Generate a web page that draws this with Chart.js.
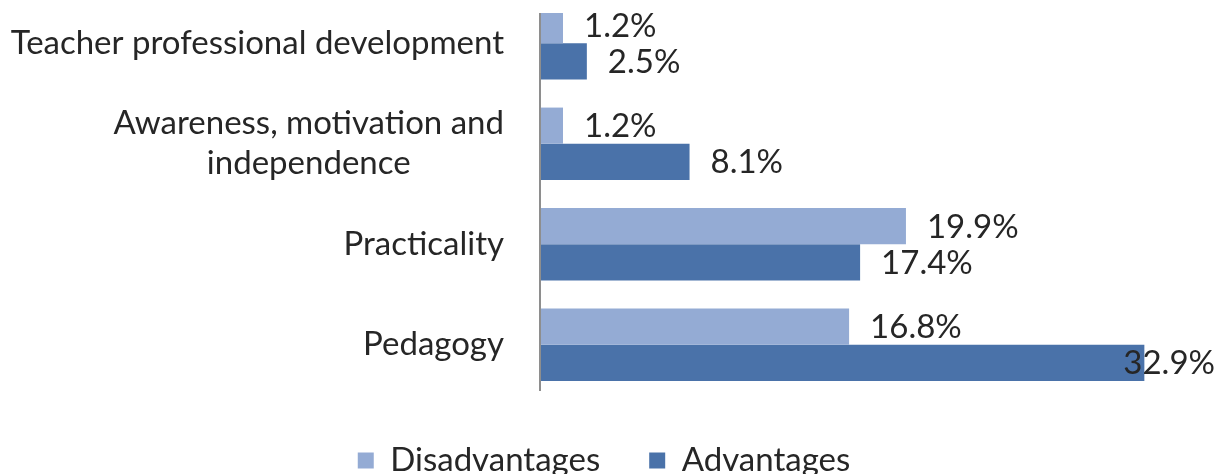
<!DOCTYPE html>
<html>
<head>
<meta charset="utf-8">
<script src="https://cdn.jsdelivr.net/npm/chart.js@4/dist/chart.umd.min.js"></script>
<style>
  html, body { margin: 0; padding: 0; background: #fff; overflow: hidden; }
  #wrap { position: absolute; left: 0; top: -20px; width: 1230px; height: 513px; }
</style>
</head>
<body>
<div id="wrap"><canvas id="chart" width="1230" height="513"></canvas></div>
<script>
const categories = [
  "Teacher professional development",
  ["Awareness, motivation and", "independence"],
  "Practicality",
  "Pedagogy"
];
const disadvantages = [1.2, 1.2, 19.9, 16.8];
const advantages = [2.5, 8.1, 17.4, 32.9];
const seriesNames = ["Disadvantages", "Advantages"];

const FONT = "Lato, 'Open Sans', sans-serif";
const FONT_SIZE = 33;
const TEXT = "#262626";
const LIGHT = "#94abd4";
const DARK = "#4a72a9";

// category names left of the axis; multi-line names are centred as a block
const categoryLabels = {
  id: "categoryLabels",
  afterDraw(chart) {
    const { ctx, chartArea } = chart;
    const y = chart.scales.y;
    const right = chartArea.left - 37;
    ctx.save();
    ctx.font = FONT_SIZE + "px " + FONT;
    ctx.fillStyle = TEXT;
    ctx.textAlign = "center";
    ctx.textBaseline = "middle";
    categories.forEach((label, i) => {
      const lines = Array.isArray(label) ? label : [label];
      const w = Math.max(...lines.map((l) => ctx.measureText(l).width));
      const cy = y.getPixelForValue(i);
      const lh = 40;
      lines.forEach((line, j) => {
        const ly = cy + (j - (lines.length - 1) / 2) * lh;
        ctx.fillText(line, right - w / 2, ly);
      });
    });
    ctx.restore();
  }
};

// value labels at the end of each bar, pulled back inside the canvas when too long
const valueLabels = {
  id: "valueLabels",
  afterDatasetsDraw(chart) {
    const { ctx } = chart;
    ctx.save();
    ctx.font = FONT_SIZE + "px " + FONT;
    ctx.fillStyle = TEXT;
    ctx.textAlign = "left";
    ctx.textBaseline = "middle";
    chart.data.datasets.forEach((ds, di) => {
      chart.getDatasetMeta(di).data.forEach((bar, i) => {
        const text = ds.data[i].toFixed(1) + "%";
        const w = ctx.measureText(text).width;
        const x = Math.min(bar.x + 21, chart.width - 15 - w);
        ctx.fillText(text, x, bar.y + 1);
      });
    });
    ctx.restore();
  }
};

// vertical axis line
const axisLine = {
  id: "axisLine",
  beforeDatasetsDraw(chart) {
    const { ctx, chartArea } = chart;
    ctx.save();
    ctx.strokeStyle = "#8e8e8e";
    ctx.lineWidth = 2;
    ctx.beginPath();
    ctx.moveTo(chartArea.left - 1, chartArea.top + 20);
    ctx.lineTo(chartArea.left - 1, chartArea.bottom - 4);
    ctx.stroke();
    ctx.restore();
  }
};

new Chart(document.getElementById("chart"), {
  type: "bar",
  data: {
    labels: categories,
    datasets: [
      { label: seriesNames[0], data: disadvantages, backgroundColor: LIGHT },
      { label: seriesNames[1], data: advantages, backgroundColor: DARK }
    ]
  },
  options: {
    indexAxis: "y",
    responsive: false,
    animation: false,
    devicePixelRatio: 1,
    datasets: {
      bar: {
        categoryPercentage: 0.72,
        barPercentage: 1.0,
        // the top of the plot is cut off
        clip: { left: 0, top: -20, right: 0, bottom: 0 }
      }
    },
    layout: { padding: { left: 0, right: 22, top: 13, bottom: 6 } },
    scales: {
      x: { display: false, min: 0, max: 36.37 },
      y: {
        display: true,
        ticks: { display: false },
        grid: { display: false },
        border: { display: false },
        afterFit(scale) { scale.width = 541; }
      }
    },
    plugins: {
      legend: {
        position: "bottom",
        labels: {
          font: { family: FONT, size: FONT_SIZE },
          color: TEXT,
          boxWidth: 16,
          boxHeight: 16,
          padding: 49
        }
      },
      tooltip: { enabled: false }
    }
  },
  plugins: [axisLine, valueLabels, categoryLabels]
});
</script>
</body>
</html>
